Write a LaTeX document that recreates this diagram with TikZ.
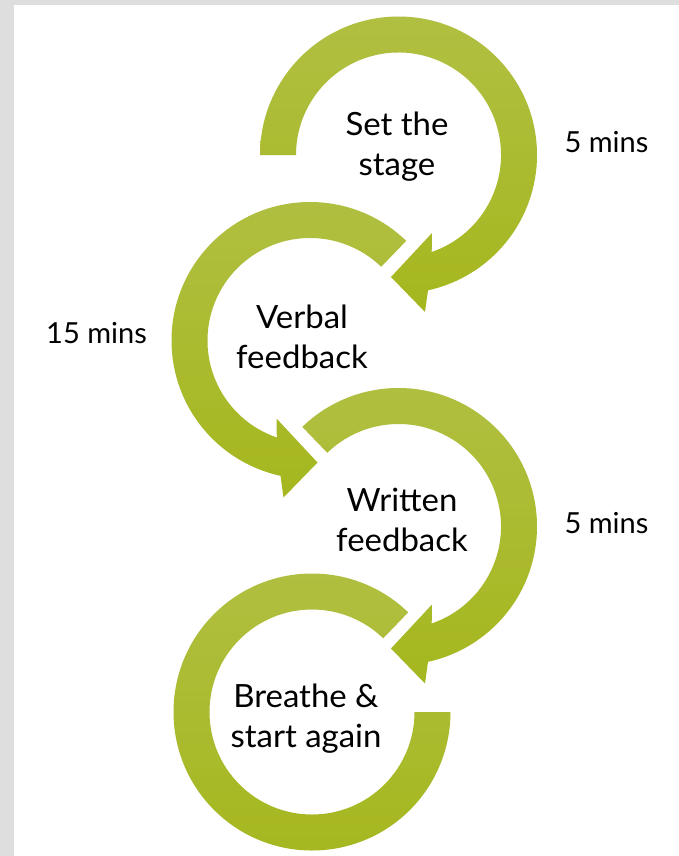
\documentclass[tikz,border=0pt]{standalone}
\usepackage{fontspec}
\setmainfont{Lato}
\newfontfamily\stepfont{Lato}[FakeStretch=1.03]
\definecolor{ringtop}{RGB}{177,191,66}
\definecolor{ringbot}{RGB}{165,183,30}
\definecolor{bordergray}{RGB}{222,222,222}
\begin{document}
\begin{tikzpicture}[x=1pt,y=-1pt,
  ring/.style={top color=ringtop, bottom color=ringbot, draw=none},
  lbl/.style={font=\stepfont\fontsize{32}{40}\selectfont, align=center, inner sep=0pt, text=black},
  tm/.style={font=\fontsize{29}{35}\selectfont, anchor=base, inner sep=0pt, text=black}]
\useasboundingbox (0,0) rectangle (679,856);
\fill[bordergray] (0,0) rectangle (679,856);
\fill[white] (14,5) rectangle (679,856);
% ring 1
\begin{scope}[shift={(398.5,155)}, yscale=-1]
  \path[ring] (180:138.5) arc[start angle=180,end angle=-77.7,radius=138.5]
    -- (26.5,-157) -- (-7.5,-122) -- (33.5,-78) -- (-71.1:102.5)
    arc[start angle=-71.1,end angle=180,radius=102.5] -- cycle;
\end{scope}
% ring 2 (mirrored)
\begin{scope}[shift={(310,340.5)}, yscale=-1, xscale=-1]
  \path[ring] (134:138.5) arc[start angle=134,end angle=-77.7,radius=138.5]
    -- (26.5,-157) -- (-7.5,-122) -- (33.5,-78) -- (-71.1:102.5)
    arc[start angle=-71.1,end angle=134,radius=102.5] -- cycle;
\end{scope}
% ring 3
\begin{scope}[shift={(398.5,526.5)}, yscale=-1]
  \path[ring] (134:138.5) arc[start angle=134,end angle=-77.7,radius=138.5]
    -- (26.5,-157) -- (-7.5,-122) -- (33.5,-78) -- (-71.1:102.5)
    arc[start angle=-71.1,end angle=134,radius=102.5] -- cycle;
\end{scope}
% ring 4 (mirrored, no head)
\begin{scope}[shift={(312,712)}, yscale=-1, xscale=-1]
  \path[ring] (134:138.5) arc[start angle=134,end angle=-180,radius=138.5]
    -- (-180:102.5) arc[start angle=-180,end angle=134,radius=102.5] -- cycle;
\end{scope}
% labels
\node[lbl] (s1) at (397,147) {Set the\\stage};
\node[lbl] (s2) at (302,337) {Verbal\\feedback};
\node[lbl] (s3) at (402,520) {Written\\feedback};
\node[lbl] (s4) at (306,719) {Breathe \&\\start again};
\node[tm] (t1) at (606.5,152) {5 mins};
\node[tm] (t2) at (96.5,343) {15 mins};
\node[tm] (t3) at (606.5,533) {5 mins};
\end{tikzpicture}
\end{document}
